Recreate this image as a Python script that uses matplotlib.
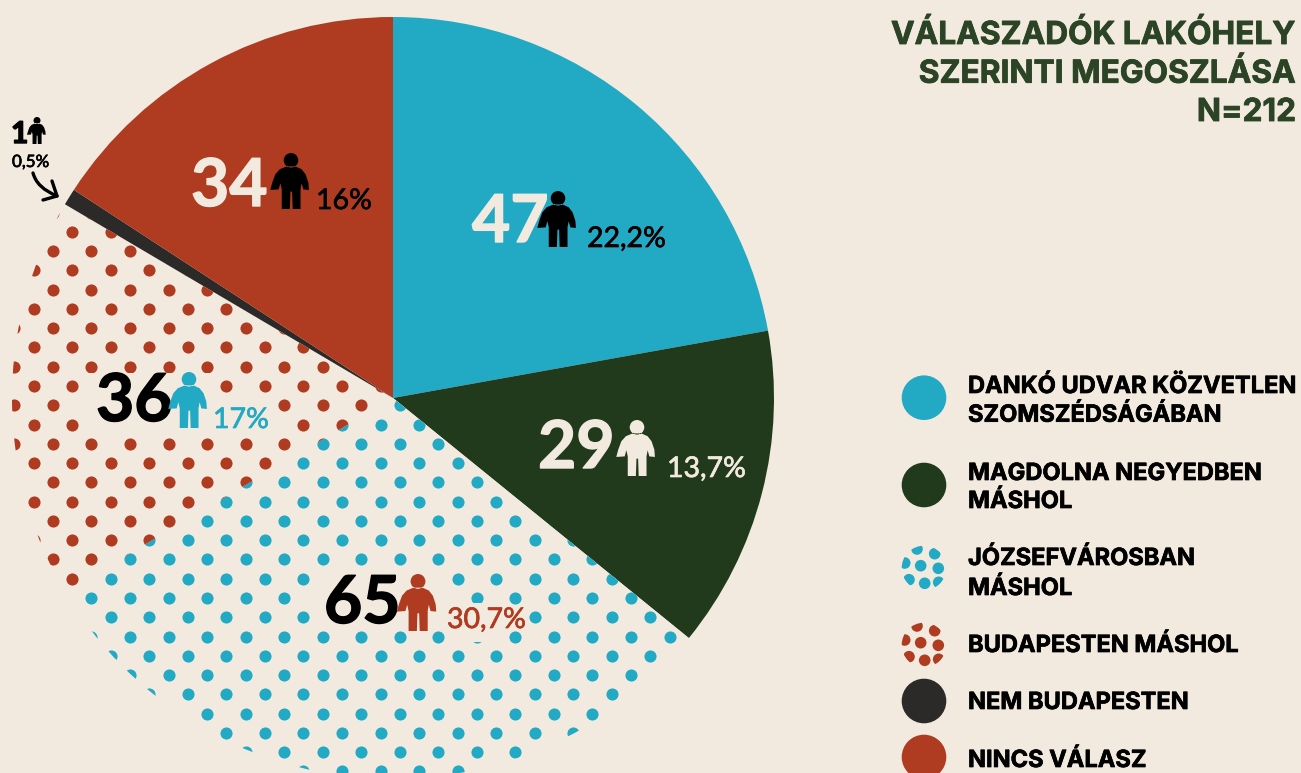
"""Respondents by place of residence: pie with dotted wedges and person icons."""
import numpy as np
import matplotlib
matplotlib.use("Agg")
import matplotlib.pyplot as plt
import matplotlib.patheffects as pe
from matplotlib.patches import Circle, PathPatch, Rectangle
from matplotlib.path import Path

# ---- data ----
CATEGORIES = ["DANKÓ UDVAR KÖZVETLEN\nSZOMSZÉDSÁGÁBAN", "MAGDOLNA NEGYEDBEN\nMÁSHOL",
              "JÓZSEFVÁROSBAN\nMÁSHOL", "BUDAPESTEN MÁSHOL", "NEM BUDAPESTEN", "NINCS VÁLASZ"]
COUNTS = [47, 29, 65, 36, 1, 34]
# slice sizes as drawn: the single respondent's sliver is wider than its true share
DRAWN_SIZES = [47, 29, 65, 36, 1.5, 33.5]
PERCENTS = ["22,2%", "13,7%", "30,7%", "17%", "0,5%", "16%"]
TITLE_LINES = ["VÁLASZADÓK LAKÓHELY", "SZERINTI MEGOSZLÁSA", "N=212"]

# ---- colors ----
BG = "#F2EADF"
BLUE = "#22A9C4"
GREEN = "#213A1C"
RED = "#AF3B20"
DARK = "#2B2A28"
TITLE_COLOR = "#2C4426"
BLACK = "#000000"

WEDGE_COLORS = [BLUE, GREEN, BG, BG, DARK, RED]
LABEL_FONT = "Lato"

# ---- layout, everything in reference pixels ----
W, H = 1301, 773
CENTER = (393, 398)
RADIUS = 381
DOT_STEP = 19.27
DOT_ORIGIN = (322.7, 405.3)
DOT_SIZE = 76

# number: left, baseline, size, color | icon: center x, top, bottom, color | pct: left, baseline, size, color
NUMBER_STYLE = [(472, 242, 66, BG), (538, 468, 66, BG), (324, 623, 66, BLACK),
                (96, 421, 66, BLACK), (11, 143, 30, BLACK), (191, 206, 66, BG)]
ICON_STYLE = [(558, 191, 247, BLACK), (637, 420, 476, BG), (418, 574, 631, RED),
              (189, 372, 428, BLUE), (37, 117, 144, BLACK), (291, 153, 209, BLACK)]
PCT_STYLE = [(587, 247, 28.5, BLACK), (667, 477, 28.5, BG), (447, 628, 28.5, RED),
             (213, 428, 28.5, BLUE), (12, 167, 17, BLACK), (316, 209, 28.5, BLACK)]

# boxes behind the labels that hide the dots (x0, y0, x1, y1)
LABEL_BOXES = [(313, 572, 447, 630), (447, 603, 505, 642),
               (80, 373, 217, 433), (217, 393, 273, 433)]

LEGEND_X = 924
LEGEND_R = 22.3
LEGEND_Y = [397.7, 485, 568, 645, 701, 757]
LEGEND_TEXT_X = 968
LEGEND_BASELINES = [(393, 421.7), (480, 508), (565, 595), (652,), (709,), (767,)]
LEGEND_DOTS = [(-3.3, -2.3), (14.3, 0.3), (0.7, 15.3), (-15, 11.7),
               (-19.3, -5), (10.7, -14.3), (-7, -19), (14.7, 14.3)]


def person_path(cx, top, bottom):
    """Little figure, outline given for height 1 and scaled to top/bottom."""
    h = bottom - top
    head = Path.circle((0, 0.13), 0.13)
    outline = [(-0.08, 0.24), (-0.2, 0.29), (-0.28, 0.38), (-0.335, 0.53), (-0.37, 0.66),
               (-0.22, 0.65), (-0.19, 0.54), (-0.165, 0.65), (-0.165, 1.0), (-0.02, 1.0),
               (-0.01, 0.69), (0.02, 0.69), (0.03, 1.0), (0.17, 1.0), (0.17, 0.65),
               (0.19, 0.54), (0.22, 0.65), (0.32, 0.66), (0.31, 0.53), (0.26, 0.38),
               (0.19, 0.29), (0.08, 0.24), (-0.08, 0.24)]
    codes = [Path.MOVETO] + [Path.LINETO] * (len(outline) - 2) + [Path.CLOSEPOLY]
    body = Path(outline, codes)
    merged = Path.make_compound_path(head, body)
    verts = merged.vertices * h + np.array([cx, top])
    return Path(verts, merged.codes)


def dot_lattice():
    """Regular dot screen over the pie, used as the fill of the two dotted wedges."""
    n = int(2 * RADIUS / DOT_STEP) + 4
    ii, jj = np.meshgrid(np.arange(-n, n), np.arange(-n, n))
    keep = (ii + jj) % 2 == 0
    xs = DOT_ORIGIN[0] + ii[keep] * DOT_STEP
    ys = DOT_ORIGIN[1] + jj[keep] * DOT_STEP
    return xs, ys


fig = plt.figure(figsize=(W / 100, H / 100), dpi=100, facecolor=BG)
ax = fig.add_axes([0, 0, 1, 1])
ax.set_facecolor(BG)

# data angle -90 points up once y is flipped, and ccw reads clockwise on screen
wedges, _ = ax.pie(DRAWN_SIZES, colors=WEDGE_COLORS, center=CENTER, radius=RADIUS,
                   startangle=-90, counterclock=True)
ax.set_xlim(0, W)
ax.set_ylim(H, 0)
ax.set_aspect("equal")
ax.axis("off")

# dotted wedges
dot_x, dot_y = dot_lattice()
for wedge, color in [(wedges[2], BLUE), (wedges[3], RED)]:
    dots = ax.scatter(dot_x, dot_y, s=DOT_SIZE, color=color, linewidths=0, zorder=3)
    dots.set_clip_path(wedge)

for x0, y0, x1, y1 in LABEL_BOXES:
    ax.add_patch(Rectangle((x0, y0), x1 - x0, y1 - y0, facecolor=BG, edgecolor="none", zorder=4))

# labels, thin stroke because the original lettering is heavier than Lato
for count, pct, num, icon, ps in zip(COUNTS, PERCENTS, NUMBER_STYLE, ICON_STYLE, PCT_STYLE):
    ax.text(num[0], num[1], str(count), fontsize=num[2] * 0.72, color=num[3], family=LABEL_FONT,
            fontweight="bold", ha="left", va="baseline", zorder=5,
            path_effects=[pe.withStroke(linewidth=1.0, foreground=num[3])])
    ax.add_patch(PathPatch(person_path(icon[0], icon[1], icon[2]), facecolor=icon[3],
                           edgecolor="none", zorder=5))
    ax.text(ps[0], ps[1], pct, fontsize=ps[2] * 0.72, color=ps[3], family=LABEL_FONT,
            ha="left", va="baseline", zorder=5,
            path_effects=[pe.withStroke(linewidth=0.5, foreground=ps[3])])

# arrow for the tiny wedge
ax.add_patch(PathPatch(Path([(33, 173), (37, 188), (57, 196)], [Path.MOVETO, Path.CURVE3, Path.CURVE3]),
                       facecolor="none", edgecolor=BLACK, lw=2.4, capstyle="round", zorder=5))
ax.plot([52, 57, 43], [181, 196, 200], color=BLACK, lw=2.4, solid_capstyle="round",
        solid_joinstyle="round", zorder=5)

# title, Inter's bold comes out a little light so give it a thin stroke
for line, baseline in zip(TITLE_LINES, [44, 82.7, 121]):
    ax.text(1296, baseline, line, fontsize=22.8, color=TITLE_COLOR, family="Inter",
            fontweight="bold", ha="right", va="baseline",
            path_effects=[pe.withStroke(linewidth=0.6, foreground=TITLE_COLOR)])

# legend
for i, (label, cy) in enumerate(zip(CATEGORIES, LEGEND_Y)):
    if i in (2, 3):
        clip = Circle((LEGEND_X, cy), LEGEND_R, facecolor="none", edgecolor="none")
        ax.add_patch(clip)
        for dx, dy in LEGEND_DOTS:
            dot = Circle((LEGEND_X + dx, cy + dy), 5.8, facecolor=BLUE if i == 2 else RED,
                         edgecolor="none")
            ax.add_patch(dot)
            dot.set_clip_path(clip)
    else:
        ax.add_patch(Circle((LEGEND_X, cy), LEGEND_R, facecolor=WEDGE_COLORS[i], edgecolor="none"))
    for line, baseline in zip(label.split("\n"), LEGEND_BASELINES[i]):
        ax.text(LEGEND_TEXT_X, baseline, line, fontsize=17.0, color=BLACK, family="Inter",
                fontweight="bold", ha="left", va="baseline",
                path_effects=[pe.withStroke(linewidth=0.5, foreground=BLACK)])

fig.savefig("out.png", dpi=100, facecolor=BG)
